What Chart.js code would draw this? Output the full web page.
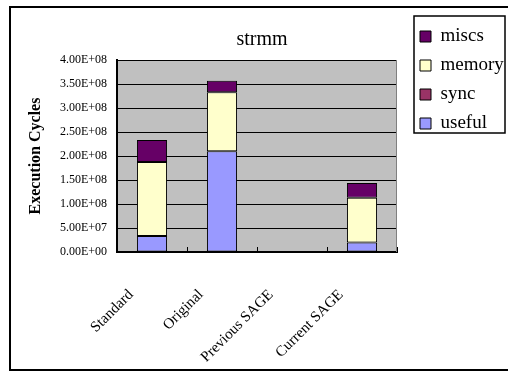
<!DOCTYPE html>
<html><head><meta charset="utf-8">
<script src="https://cdn.jsdelivr.net/npm/chart.js@4.4.0/dist/chart.umd.min.js"></script>
<style>html,body{margin:0;padding:0;background:#fff;overflow:hidden;}canvas{display:block;}</style>
</head><body>
<canvas id="c" width="508" height="371"></canvas>
<script>
const categories = ['Standard', 'Original', 'Previous SAGE', 'Current SAGE'];
const useful = [3.33e7, 2.10e8, 0, 2.0e7];
const sync   = [0, 0, 0, 0];
const memory = [1.54e8, 1.23e8, 0, 9.3e7];
const miscs  = [4.6e7, 2.4e7, 0, 3.1e7];
const yTickLabels = ['0.00E+00','5.00E+07','1.00E+08','1.50E+08','2.00E+08','2.50E+08','3.00E+08','3.50E+08','4.00E+08'];

const SERIF = "'Liberation Serif', serif";
Chart.defaults.font.family = SERIF;
Chart.defaults.color = '#000';

const framePlugin = {
  id: 'frame',
  beforeDraw(chart) {
    const {ctx, chartArea: a} = chart;
    ctx.save();
    ctx.fillStyle = '#fff';
    ctx.fillRect(0, 0, chart.width, chart.height);
    ctx.strokeStyle = '#000';
    ctx.lineWidth = 2;
    ctx.strokeRect(10, 7, chart.width + 20, chart.height - 8);
    ctx.fillStyle = '#c0c0c0';
    ctx.fillRect(a.left, a.top, a.right - a.left, a.bottom - a.top);
    ctx.restore();
  },
  afterLayout(chart) {
    const lg = chart.legend;
    if (!lg) return;
    const w = lg.width, h = lg.height;
    lg.left = 410; lg.top = 17; lg.right = 410 + w; lg.bottom = 17 + h;
  },
  afterDatasetsDraw(chart) {
    const {ctx, chartArea: a, scales} = chart;
    const x = scales.x;
    ctx.save();
    ctx.strokeStyle = '#808080';
    ctx.lineWidth = 1;
    ctx.beginPath();
    ctx.moveTo(a.right - 0.5, a.top);
    ctx.lineTo(a.right - 0.5, a.bottom);
    ctx.stroke();
    ctx.strokeStyle = '#000';
    const n = categories.length, w = x.width / n;
    ctx.beginPath();
    for (let i = 1; i <= n; i++) {
      const px = Math.round(x.left + i * w) + 0.5;
      ctx.moveTo(px, a.bottom);
      ctx.lineTo(px, a.bottom - 5);
    }
    ctx.stroke();
    ctx.restore();
  },
  afterDraw(chart) {
    const lg = chart.legend;
    if (!lg || !lg.legendHitBoxes || !lg.legendHitBoxes.length) return;
    let l = Infinity, t = Infinity, r = -Infinity, b = -Infinity;
    lg.legendHitBoxes.forEach(hb => {
      l = Math.min(l, hb.left); t = Math.min(t, hb.top);
      r = Math.max(r, hb.left + hb.width); b = Math.max(b, hb.top + hb.height);
    });
    const ctx = chart.ctx;
    ctx.save();
    ctx.strokeStyle = '#000';
    ctx.lineWidth = 1.5;
    const x0 = Math.round(l - 6), y0 = Math.round(t - 11);
    ctx.strokeRect(x0, y0, Math.round(r + 1) - x0, Math.round(b) - y0);
    ctx.restore();
  }
};

new Chart(document.getElementById('c'), {
  type: 'bar',
  data: {
    labels: categories,
    datasets: [
      {label: 'useful', data: useful, backgroundColor: '#9999ff'},
      {label: 'sync', data: sync, backgroundColor: '#993366'},
      {label: 'memory', data: memory, backgroundColor: '#ffffcc'},
      {label: 'miscs', data: miscs, backgroundColor: '#660066'}
    ].map(d => Object.assign(d, {borderColor: '#000', borderWidth: 1, borderSkipped: false, categoryPercentage: 1, barPercentage: 0.43}))
  },
  options: {
    responsive: false,
    animation: false,
    devicePixelRatio: 1,
    layout: {padding: {left: 16, right: 0, top: 0, bottom: 0}},
    plugins: {
      tooltip: {enabled: false},
      title: {display: true, text: 'strmm', font: {family: SERIF, size: 20, weight: 'normal'}, color: '#000', padding: {top: 28, bottom: 8}},
      legend: {
        position: 'chartArea', align: 'start', reverse: true,
        labels: {boxWidth: 11, boxHeight: 11, padding: 10, font: {family: SERIF, size: 19, weight: 'normal'}, color: '#000'}
      }
    },
    scales: {
      x: {
        stacked: true,
        ticks: {autoSkip: false, minRotation: 45, maxRotation: 45, padding: 34, labelOffset: -21, font: {family: SERIF, size: 15}, color: '#000'},
        grid: {display: true, drawOnChartArea: false, drawTicks: false},
        border: {color: '#000', width: 2},
        afterFit: s => { s.height = 119; }
      },
      y: {
        stacked: true, min: 0, max: 4e8,
        ticks: {stepSize: 5e7, padding: 10, font: {family: SERIF, size: 12}, color: '#000', callback: (v, i) => yTickLabels[i]},
        grid: {color: '#000', lineWidth: 1, drawTicks: false},
        border: {color: '#000', width: 2},
        title: {display: true, text: 'Execution Cycles', font: {family: SERIF, size: 16, weight: 'bold'}, color: '#000', padding: {top: 10, bottom: 0}},
        afterFit: s => { s.width = 101; }
      },
      yR: {
        type: 'linear', position: 'right', display: true,
        ticks: {display: false}, grid: {display: false}, border: {display: false},
        afterFit: s => { s.width = 111; }
      }
    }
  },
  plugins: [framePlugin]
});
</script>
</body></html>
